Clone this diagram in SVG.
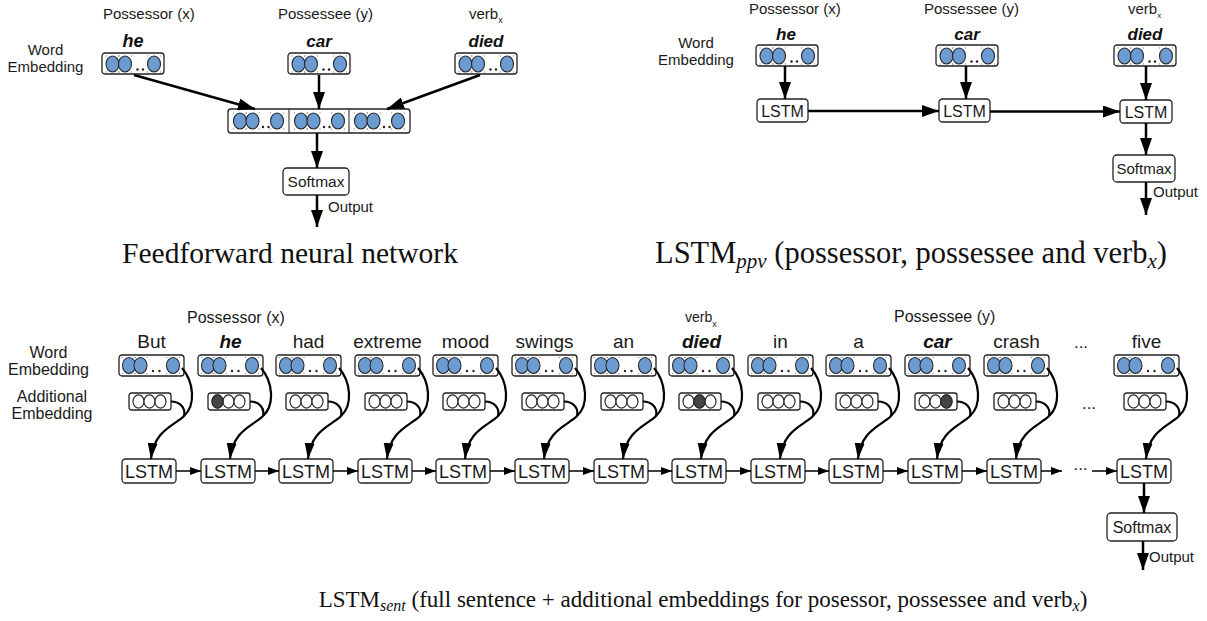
<svg xmlns="http://www.w3.org/2000/svg" xmlns:xlink="http://www.w3.org/1999/xlink" width="1207" height="621" viewBox="0 0 1207 621">
<style>
.t{font-family:"Liberation Sans",Arial,sans-serif;fill:#1a1a1a}
.bi{font-family:"Liberation Sans",Arial,sans-serif;font-weight:bold;font-style:italic;fill:#111}
.cap{font-family:"Liberation Serif","Times New Roman",serif;fill:#111}
.box{fill:#fff;stroke:#222;stroke-width:1.3}
.bl{fill:#6b9bd1;stroke:#2a2a2a;stroke-width:1.1}
.wh{fill:#fff;stroke:#2a2a2a;stroke-width:1.2}
.dk{fill:#444;stroke:#2a2a2a;stroke-width:1.2}
.sp{fill:#999}
.dot{fill:#222}
.a{fill:none;stroke:#000;stroke-width:2.5}
.s{fill:none;stroke:#000;stroke-width:1.5}
.c{fill:none;stroke:#000;stroke-width:2.2}
</style>
<defs>
<marker id="ah" markerUnits="userSpaceOnUse" markerWidth="18" markerHeight="12" refX="17" refY="6" orient="auto"><path d="M0,0 L17,6 L0,12 Z" fill="#000"/></marker>
<marker id="as" markerUnits="userSpaceOnUse" markerWidth="12" markerHeight="8" refX="11" refY="4" orient="auto"><path d="M0,0 L11,4 L0,8 Z" fill="#000"/></marker>
<marker id="ac" markerUnits="userSpaceOnUse" markerWidth="17" markerHeight="11" refX="16" refY="5" orient="auto"><path d="M0,0 L16,5 L0,10 Z" fill="#000"/></marker>
<g id="be"><ellipse cx="0" cy="0" rx="6.5" ry="8" class="bl"/><circle cx="-6.5" cy="-8" r="0.7" class="sp"/><circle cx="6.5" cy="-8" r="0.7" class="sp"/><circle cx="-6.5" cy="8" r="0.7" class="sp"/><circle cx="6.5" cy="8" r="0.7" class="sp"/></g>
<g id="wt"><rect x="0" y="0" width="62" height="21" rx="3" class="box"/><use xlink:href="#be" x="10.5" y="11"/><use xlink:href="#be" x="23" y="11"/><circle cx="35.5" cy="16.5" r="1.2" class="dot"/><circle cx="41" cy="16.5" r="1.2" class="dot"/><use xlink:href="#be" x="52" y="11"/></g>
<g id="wb"><rect x="0" y="0" width="65" height="21" rx="3" class="box"/><use xlink:href="#be" x="10" y="10.5"/><use xlink:href="#be" x="21.5" y="10.5"/><circle cx="34" cy="16" r="1.2" class="dot"/><circle cx="40.5" cy="16" r="1.2" class="dot"/><use xlink:href="#be" x="54" y="10.5"/></g>
<g id="sec"><use xlink:href="#be" x="12" y="121"/><use xlink:href="#be" x="24.5" y="121"/><circle cx="35" cy="127" r="1.2" class="dot"/><circle cx="40.5" cy="127" r="1.2" class="dot"/><use xlink:href="#be" x="49" y="121"/></g>
<g id="ab"><rect x="0" y="0" width="42" height="17" rx="2.5" class="box"/><ellipse cx="9.5" cy="8.5" rx="5.5" ry="6.6" class="wh"/><ellipse cx="20.5" cy="8.5" rx="5.5" ry="6.6" class="wh"/><ellipse cx="31.5" cy="8.5" rx="5.5" ry="6.6" class="wh"/></g>
<g id="cv"><path class="c" d="M53,401.5 C62,401.5 68,408 66,416"/><path class="c" d="M64,368 C76,382 78,405 66,416 C56,426 36,430 33,459" marker-end="url(#ac)"/></g>
</defs>

<!-- ===== Feedforward (top-left) ===== -->
<g id="ff-labels">
<text class="t" font-size="15" x="45.5" y="55" text-anchor="middle">Word</text>
<text class="t" font-size="15" x="45.5" y="72" text-anchor="middle">Embedding</text>
<text class="t" font-size="15" x="103" y="19">Possessor (x)</text>
<text class="t" font-size="15" x="278" y="19">Possessee (y)</text>
<text class="t" font-size="15" x="469" y="19">verb<tspan font-size="9" dy="4">x</tspan></text>
</g>
<g id="ff-he"><text class="bi" font-size="18" x="133" y="47" text-anchor="middle">he</text><use xlink:href="#wt" x="102" y="53"/></g>
<g id="ff-car"><text class="bi" font-size="17" x="319" y="47" text-anchor="middle">car</text><use xlink:href="#wt" x="288" y="53"/></g>
<g id="ff-died"><text class="bi" font-size="17" x="486" y="47" text-anchor="middle">died</text><use xlink:href="#wt" x="455" y="53"/></g>
<g id="ff-concat"><rect x="228" y="109" width="182" height="24" rx="3" class="box"/><line x1="289" y1="109" x2="289" y2="133" stroke="#222" stroke-width="1"/><line x1="349" y1="109" x2="349" y2="133" stroke="#222" stroke-width="1"/><use xlink:href="#sec" x="228" y="0"/><use xlink:href="#sec" x="289" y="0"/><use xlink:href="#sec" x="349" y="0"/></g>
<g id="ff-softmax"><rect x="283" y="168" width="66" height="27" rx="4" class="box"/><text class="t" font-size="15.5" x="316" y="187" text-anchor="middle">Softmax</text></g>
<text class="t" font-size="15" x="328" y="212">Output</text>
<text class="cap" font-size="29.5" x="290" y="263" text-anchor="middle">Feedforward neural network</text>

<!-- ===== LSTM_ppv (top-right) ===== -->
<g id="ppv-labels">
<text class="t" font-size="15" x="696" y="48" text-anchor="middle">Word</text>
<text class="t" font-size="15" x="696" y="65" text-anchor="middle">Embedding</text>
<text class="t" font-size="15" x="749" y="14">Possessor (x)</text>
<text class="t" font-size="15" x="924" y="14">Possessee (y)</text>
<text class="t" font-size="15" x="1128" y="14">verb<tspan font-size="8" dy="4">x</tspan></text>
</g>
<g id="ppv-he"><text class="bi" font-size="17" x="786" y="40" text-anchor="middle">he</text><use xlink:href="#wt" x="756" y="45"/></g>
<g id="ppv-car"><text class="bi" font-size="17" x="967" y="40" text-anchor="middle">car</text><use xlink:href="#wt" x="936" y="45"/></g>
<g id="ppv-died"><text class="bi" font-size="17" x="1145" y="40" text-anchor="middle">died</text><use xlink:href="#wt" x="1114" y="45"/></g>
<g id="ppv-lstm1"><rect x="757" y="99" width="51" height="23" rx="3.5" class="box"/><text class="t" font-size="16" x="782.5" y="116.5" text-anchor="middle">LSTM</text></g>
<g id="ppv-lstm2"><rect x="939" y="99" width="51" height="23" rx="3.5" class="box"/><text class="t" font-size="16" x="964.5" y="116.5" text-anchor="middle">LSTM</text></g>
<g id="ppv-lstm3"><rect x="1120" y="100" width="52" height="23" rx="3.5" class="box"/><text class="t" font-size="16" x="1146" y="117.5" text-anchor="middle">LSTM</text></g>
<g id="ppv-softmax"><rect x="1113" y="155" width="62" height="27" rx="4" class="box"/><text class="t" font-size="15" x="1144" y="173.5" text-anchor="middle">Softmax</text></g>
<text class="t" font-size="15" x="1153" y="197">Output</text>
<text class="cap" font-size="30.5" x="911" y="263" text-anchor="middle">LSTM<tspan font-size="21" font-style="italic" dy="5">ppv</tspan><tspan dy="-5"> (possessor, possessee and verb</tspan><tspan font-size="21" font-style="italic" dy="5">x</tspan><tspan dy="-5">)</tspan></text>

<!-- ===== LSTM_sent (bottom) ===== -->
<g id="sent-labels">
<text class="t" font-size="16" x="48.5" y="358" text-anchor="middle">Word</text>
<text class="t" font-size="16" x="48.5" y="375" text-anchor="middle">Embedding</text>
<text class="t" font-size="16" x="52" y="402" text-anchor="middle">Additional</text>
<text class="t" font-size="16" x="52" y="419" text-anchor="middle">Embedding</text>
<text class="t" font-size="16" x="187" y="323">Possessor (x)</text>
<text class="t" font-size="14" x="685" y="322">verb<tspan font-size="9" dy="5">x</tspan></text>
<text class="t" font-size="16" x="894" y="322">Possessee (y)</text>
<text class="t" font-size="17" x="1081" y="348" text-anchor="middle">...</text>
<text class="t" font-size="17" x="1089" y="409" text-anchor="middle">...</text>
<text class="t" font-size="17" x="1080.5" y="470" text-anchor="middle">...</text>
</g>

<g id="w0"><text class="t" font-size="19" x="151.5" y="348" text-anchor="middle">But</text><use xlink:href="#wb" x="119" y="355"/></g>
<g id="w1"><text class="bi" font-size="19" x="230.5" y="348" text-anchor="middle">he</text><use xlink:href="#wb" x="198" y="355"/></g>
<g id="w2"><text class="t" font-size="19" x="308.5" y="348" text-anchor="middle">had</text><use xlink:href="#wb" x="276" y="355"/></g>
<g id="w3"><text class="t" font-size="19" x="387.5" y="348" text-anchor="middle">extreme</text><use xlink:href="#wb" x="355" y="355"/></g>
<g id="w4"><text class="t" font-size="19" x="465.5" y="348" text-anchor="middle">mood</text><use xlink:href="#wb" x="433" y="355"/></g>
<g id="w5"><text class="t" font-size="19" x="544.5" y="348" text-anchor="middle">swings</text><use xlink:href="#wb" x="512" y="355"/></g>
<g id="w6"><text class="t" font-size="19" x="623.5" y="348" text-anchor="middle">an</text><use xlink:href="#wb" x="591" y="355"/></g>
<g id="w7"><text class="bi" font-size="19" x="701.5" y="348" text-anchor="middle">died</text><use xlink:href="#wb" x="669" y="355"/></g>
<g id="w8"><text class="t" font-size="19" x="780.5" y="348" text-anchor="middle">in</text><use xlink:href="#wb" x="748" y="355"/></g>
<g id="w9"><text class="t" font-size="19" x="858.5" y="348" text-anchor="middle">a</text><use xlink:href="#wb" x="826" y="355"/></g>
<g id="w10"><text class="bi" font-size="19" x="937.5" y="348" text-anchor="middle">car</text><use xlink:href="#wb" x="905" y="355"/></g>
<g id="w11"><text class="t" font-size="19" x="1016.5" y="348" text-anchor="middle">crash</text><use xlink:href="#wb" x="984" y="355"/></g>
<g id="w12"><text class="t" font-size="19" x="1146.5" y="348" text-anchor="middle">five</text><use xlink:href="#wb" x="1114" y="355"/></g>

<g id="a0"><use xlink:href="#ab" x="129" y="393"/></g>
<g id="a1"><use xlink:href="#ab" x="208" y="393"/><ellipse cx="217.5" cy="401.5" rx="5.5" ry="6.6" class="dk"/></g>
<g id="a2"><use xlink:href="#ab" x="286" y="393"/></g>
<g id="a3"><use xlink:href="#ab" x="365" y="393"/></g>
<g id="a4"><use xlink:href="#ab" x="443" y="393"/></g>
<g id="a5"><use xlink:href="#ab" x="522" y="393"/></g>
<g id="a6"><use xlink:href="#ab" x="601" y="393"/></g>
<g id="a7"><use xlink:href="#ab" x="679" y="393"/><ellipse cx="699.5" cy="401.5" rx="5.5" ry="6.6" class="dk"/></g>
<g id="a8"><use xlink:href="#ab" x="758" y="393"/></g>
<g id="a9"><use xlink:href="#ab" x="836" y="393"/></g>
<g id="a10"><use xlink:href="#ab" x="915" y="393"/><ellipse cx="946.5" cy="401.5" rx="5.5" ry="6.6" class="dk"/></g>
<g id="a11"><use xlink:href="#ab" x="994" y="393"/></g>
<g id="a12"><use xlink:href="#ab" x="1124" y="393"/></g>

<g id="l0"><rect x="122" y="459" width="54" height="24" rx="3.5" class="box"/><text class="t" font-size="18" x="149" y="477.5" text-anchor="middle">LSTM</text></g>
<g id="l1"><rect x="201" y="459" width="54" height="24" rx="3.5" class="box"/><text class="t" font-size="18" x="228" y="477.5" text-anchor="middle">LSTM</text></g>
<g id="l2"><rect x="279" y="459" width="54" height="24" rx="3.5" class="box"/><text class="t" font-size="18" x="306" y="477.5" text-anchor="middle">LSTM</text></g>
<g id="l3"><rect x="358" y="459" width="54" height="24" rx="3.5" class="box"/><text class="t" font-size="18" x="385" y="477.5" text-anchor="middle">LSTM</text></g>
<g id="l4"><rect x="436" y="459" width="54" height="24" rx="3.5" class="box"/><text class="t" font-size="18" x="463" y="477.5" text-anchor="middle">LSTM</text></g>
<g id="l5"><rect x="515" y="459" width="54" height="24" rx="3.5" class="box"/><text class="t" font-size="18" x="542" y="477.5" text-anchor="middle">LSTM</text></g>
<g id="l6"><rect x="594" y="459" width="54" height="24" rx="3.5" class="box"/><text class="t" font-size="18" x="621" y="477.5" text-anchor="middle">LSTM</text></g>
<g id="l7"><rect x="672" y="459" width="54" height="24" rx="3.5" class="box"/><text class="t" font-size="18" x="699" y="477.5" text-anchor="middle">LSTM</text></g>
<g id="l8"><rect x="751" y="459" width="54" height="24" rx="3.5" class="box"/><text class="t" font-size="18" x="778" y="477.5" text-anchor="middle">LSTM</text></g>
<g id="l9"><rect x="829" y="459" width="54" height="24" rx="3.5" class="box"/><text class="t" font-size="18" x="856" y="477.5" text-anchor="middle">LSTM</text></g>
<g id="l10"><rect x="908" y="459" width="54" height="24" rx="3.5" class="box"/><text class="t" font-size="18" x="935" y="477.5" text-anchor="middle">LSTM</text></g>
<g id="l11"><rect x="987" y="459" width="54" height="24" rx="3.5" class="box"/><text class="t" font-size="18" x="1014" y="477.5" text-anchor="middle">LSTM</text></g>
<g id="l12"><rect x="1117" y="459" width="54" height="24" rx="3.5" class="box"/><text class="t" font-size="18" x="1144" y="477.5" text-anchor="middle">LSTM</text></g>
<g id="sent-softmax"><rect x="1107" y="513" width="70" height="28" rx="4" class="box"/><text class="t" font-size="16" x="1142" y="532.5" text-anchor="middle">Softmax</text></g>
<text class="t" font-size="15" x="1149" y="562">Output</text>
<text class="cap" font-size="23" x="703" y="607" text-anchor="middle">LSTM<tspan font-size="16" font-style="italic" dy="4">sent</tspan><tspan dy="-4"> (full sentence + additional embeddings for posessor, possessee and verb</tspan><tspan font-size="16" font-style="italic" dy="4">x</tspan><tspan dy="-4">)</tspan></text>

<!-- ===== connectors ===== -->
<g id="connectors">
<line class="a" x1="134" y1="75" x2="255" y2="109" marker-end="url(#ah)"/>
<line class="a" x1="319" y1="75" x2="319" y2="109" marker-end="url(#ah)"/>
<line class="a" x1="480" y1="75" x2="387" y2="109" marker-end="url(#ah)"/>
<line class="a" x1="317" y1="133" x2="317" y2="168" marker-end="url(#ah)"/>
<line class="a" x1="317" y1="195" x2="317" y2="227" marker-end="url(#ah)"/>

<line class="a" x1="785" y1="66" x2="785" y2="99" marker-end="url(#ah)"/>
<line class="a" x1="966" y1="66" x2="966" y2="99" marker-end="url(#ah)"/>
<line class="a" x1="1146" y1="66" x2="1146" y2="100" marker-end="url(#ah)"/>
<line class="a" x1="808" y1="111" x2="939" y2="111" marker-end="url(#ah)"/>
<line class="a" x1="990" y1="111.5" x2="1120" y2="111.5" marker-end="url(#ah)"/>
<line class="a" x1="1146" y1="123" x2="1146" y2="155" marker-end="url(#ah)"/>
<line class="a" x1="1146" y1="182" x2="1146" y2="215" marker-end="url(#ah)"/>

<use xlink:href="#cv" x="118" y="0"/>
<use xlink:href="#cv" x="197" y="0"/>
<use xlink:href="#cv" x="275" y="0"/>
<use xlink:href="#cv" x="354" y="0"/>
<use xlink:href="#cv" x="432" y="0"/>
<use xlink:href="#cv" x="511" y="0"/>
<use xlink:href="#cv" x="590" y="0"/>
<use xlink:href="#cv" x="668" y="0"/>
<use xlink:href="#cv" x="747" y="0"/>
<use xlink:href="#cv" x="825" y="0"/>
<use xlink:href="#cv" x="904" y="0"/>
<use xlink:href="#cv" x="983" y="0"/>
<use xlink:href="#cv" x="1113" y="0"/>

<line class="s" x1="176" y1="471" x2="201" y2="471" marker-end="url(#as)"/>
<line class="s" x1="255" y1="471" x2="279" y2="471" marker-end="url(#as)"/>
<line class="s" x1="333" y1="471" x2="358" y2="471" marker-end="url(#as)"/>
<line class="s" x1="412" y1="471" x2="436" y2="471" marker-end="url(#as)"/>
<line class="s" x1="490" y1="471" x2="515" y2="471" marker-end="url(#as)"/>
<line class="s" x1="569" y1="471" x2="594" y2="471" marker-end="url(#as)"/>
<line class="s" x1="648" y1="471" x2="672" y2="471" marker-end="url(#as)"/>
<line class="s" x1="726" y1="471" x2="751" y2="471" marker-end="url(#as)"/>
<line class="s" x1="805" y1="471" x2="829" y2="471" marker-end="url(#as)"/>
<line class="s" x1="883" y1="471" x2="908" y2="471" marker-end="url(#as)"/>
<line class="s" x1="962" y1="471" x2="987" y2="471" marker-end="url(#as)"/>
<line class="s" x1="1041" y1="471" x2="1062" y2="471" marker-end="url(#as)"/>
<line class="s" x1="1092" y1="471" x2="1117" y2="471" marker-end="url(#as)"/>
<line class="a" x1="1144" y1="483" x2="1144" y2="513" marker-end="url(#ah)"/>
<line class="a" x1="1143" y1="541" x2="1143" y2="570" marker-end="url(#ah)"/>
</g>
</svg>
